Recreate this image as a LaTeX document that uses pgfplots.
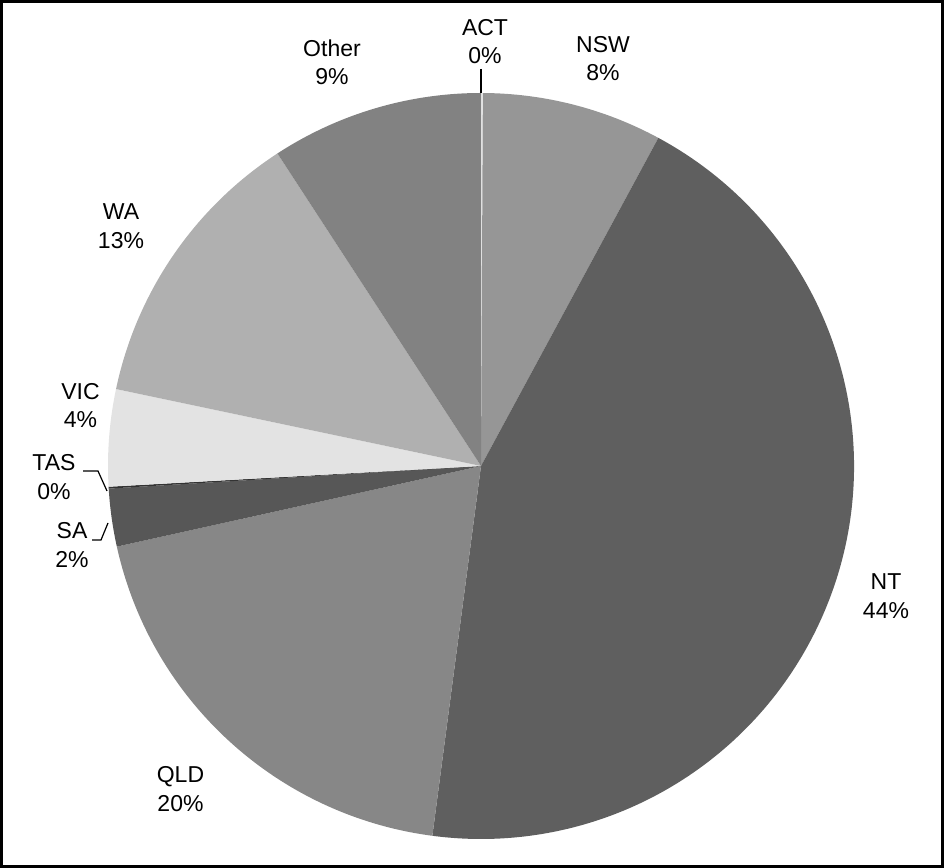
\documentclass[border=0pt]{standalone}
\usepackage{fontspec}
\setmainfont{Liberation Sans}
\usepackage{pgfplots}
\usepackage{pgfplotstable}
\pgfplotsset{compat=1.18}

% share of each state, clockwise from 12 o'clock
\pgfplotstableread{
state pct
ACT   0.08
NSW   7.8
NT    44.15
QLD   19.43
SA    2.5
TAS   0.08
VIC   4.19
WA    12.49
Other 9.18
}\piedata

\definecolor{pie0}{HTML}{EEEEEE}
\definecolor{pie1}{HTML}{969696}
\definecolor{pie2}{HTML}{5F5F5F}
\definecolor{pie3}{HTML}{878787}
\definecolor{pie4}{HTML}{575757}
\definecolor{pie5}{HTML}{333333}
\definecolor{pie6}{HTML}{E3E3E3}
\definecolor{pie7}{HTML}{B0B0B0}
\definecolor{pie8}{HTML}{828282}

\tikzset{lbl/.style={font=\fontsize{11.5}{14.25}\selectfont, align=center, inner sep=0pt}}

\begin{document}
\begin{tikzpicture}
% cumulative angles of the slices
\pgfplotstablegetrowsof{\piedata}
\pgfmathtruncatemacro\lastrow{\pgfplotsretval-1}
\def\total{0}
\pgfplotsforeachungrouped \i in {0,...,\lastrow}{%
  \pgfplotstablegetelem{\i}{pct}\of\piedata
  \pgfmathsetmacro\total{\total+\pgfplotsretval}}
\def\cum{0}
\pgfplotsforeachungrouped \i in {0,...,\lastrow}{%
  \pgfplotstablegetelem{\i}{pct}\of\piedata
  \pgfmathsetmacro\angA{90-\cum/\total*360}
  \pgfmathsetmacro\cum{\cum+\pgfplotsretval}
  \pgfmathsetmacro\angB{90-\cum/\total*360}
  \expandafter\xdef\csname pieA\i\endcsname{\angA}
  \expandafter\xdef\csname pieB\i\endcsname{\angB}}

\begin{axis}[
    width=472pt, height=434pt,
    scale only axis,
    xmin=0, xmax=944, ymin=0, ymax=868,
    hide axis,
    clip=false,
]
\pgfplotsinvokeforeach{0,...,8}{
  \fill[pie#1] (axis cs:481,402) -- ++(\csname pieA#1\endcsname:186.5pt)
    arc[start angle=\csname pieA#1\endcsname, end angle=\csname pieB#1\endcsname, radius=186.5pt] -- cycle;
}

% labels
\node[lbl] at (axis cs:485,826.5) {ACT\\0\%};
\node[lbl] at (axis cs:603,809.5) {NSW\\8\%};
\node[lbl] at (axis cs:886,272) {NT\\44\%};
\node[lbl] at (axis cs:180.5,79) {QLD\\20\%};
\node[lbl] at (axis cs:72,323) {SA\\2\%};
\node[lbl] at (axis cs:54,391) {TAS\\0\%};
\node[lbl] at (axis cs:80.5,462.5) {VIC\\4\%};
\node[lbl] at (axis cs:121,642) {WA\\13\%};
\node[lbl] at (axis cs:332,805.5) {Other\\9\%};

% leader lines
\draw[line width=0.6pt] (axis cs:481,799) -- (axis cs:481,775);
\draw[line width=0.6pt] (axis cs:83,397) -- (axis cs:98,397) -- (axis cs:107,377);
\draw[line width=0.6pt] (axis cs:92,328) -- (axis cs:101,328) -- (axis cs:108,345);

% outer frame
\draw[line width=1.5pt] (axis cs:1.5,1.5) rectangle (axis cs:942.5,866.5);
\end{axis}
\end{tikzpicture}
\end{document}
